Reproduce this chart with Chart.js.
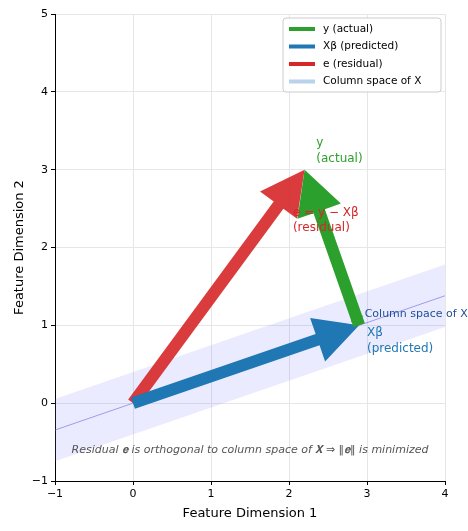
<!DOCTYPE html><html><head><script src="https://cdn.jsdelivr.net/npm/chart.js@4"></script>
<style>body{margin:0;background:#fff}#c{width:468px;height:531px}</style></head><body><div id="c"><canvas id="cv"></canvas></div>
<script>
const xTicks=[-1,0,1,2,3,4];
const yTicks=[-1,0,1,2,3,4,5];
const colSlope=[0.345];
const bandHalf=[0.4];
const predicted=[2.9,1.0];
const actual=[2.2,3.0];
const origin=[0,0];
const lineXs=[-1,4];
const C={g:'#2ca02c',b:'#1f77b4',r:'#d62728',band:'rgba(120,120,255,0.15)'};
const lineData=lineXs.map(x=>({x,y:colSlope[0]*x}));
const topData=lineXs.map(x=>({x,y:colSlope[0]*x+bandHalf[0]}));
const botData=lineXs.map(x=>({x,y:colSlope[0]*x-bandHalf[0]}));
const arrows=[
 {from:origin,to:actual,color:'rgba(214,39,40,0.9)'},
 {from:origin,to:predicted,color:C.b},
 {from:predicted,to:actual,color:C.g}
];
const plug={id:'p',afterDatasetsDraw(ch){
 const c=ch.ctx,xs=ch.scales.x,ys=ch.scales.y;
 const P=p=>[xs.getPixelForValue(p[0]),ys.getPixelForValue(p[1])];
 c.save();
 const [px,py]=P(predicted);
 c.strokeStyle='#888';c.lineWidth=1;c.beginPath();
 c.moveTo(px-8,py-3);c.lineTo(px-5,py-12);c.lineTo(px+4,py-9);c.stroke();
 arrows.forEach(a=>{
  const [x0,y0]=P(a.from),[x1,y1]=P(a.to);
  const dx=x1-x0,dy=y1-y0,L=Math.hypot(dx,dy),ux=dx/L,uy=dy/L,nx=-uy,ny=ux;
  const hl=44,hw=23,sw=6;
  const bx=x1-ux*hl,by=y1-uy*hl;
  c.fillStyle=a.color;c.beginPath();
  c.moveTo(x0+nx*sw,y0+ny*sw);c.lineTo(bx+nx*sw,by+ny*sw);c.lineTo(bx+nx*hw,by+ny*hw);
  c.lineTo(x1,y1);c.lineTo(bx-nx*hw,by-ny*hw);c.lineTo(bx-nx*sw,by-ny*sw);c.lineTo(x0-nx*sw,y0-ny*sw);c.closePath();c.fill();
 });
 c.font='12px "DejaVu Sans"';c.textBaseline='middle';c.textAlign='left';
 const T=(t,x,y,col)=>{c.fillStyle=col;const [a,b]=P([x,y]);c.fillText(t,a,b);};
 T('y',2.35,3.34,C.g);T('(actual)',2.35,3.14,C.g);
 T('e = y − Xβ',2.05,2.45,C.r);T('(residual)',2.05,2.25,C.r);
 c.font='11px "DejaVu Sans"';
 T('Column space of X',2.97,1.15,'#1f4e9a');
 c.font='12px "DejaVu Sans"';
 T('Xβ',3.0,0.9,C.b);T('(predicted)',3.0,0.7,C.b);
 c.font='italic 11px "DejaVu Sans"';c.fillStyle='#555';c.textAlign='center';
 T('Residual 𝐞 is orthogonal to column space of 𝐗 ⇒ ‖𝐞‖ is minimized',1.5,-0.6,'#555');
 // legend
 const lx=283,ly=18;c.textAlign='left';
 c.fillStyle='rgba(255,255,255,0.9)';c.strokeStyle='#ccc';c.lineWidth=1;
 c.beginPath();c.roundRect(lx,ly,158,74,3);c.fill();c.stroke();
 const items=[['y (actual)',C.g],['Xβ (predicted)',C.b],['e (residual)',C.r],['Column space of X','#b9d3ea']];
 c.font='10.5px "DejaVu Sans"';
 items.forEach((it,i)=>{const yy=ly+11+i*17.5;c.strokeStyle=it[1];c.lineWidth=4;c.beginPath();c.moveTo(lx+6,yy);c.lineTo(lx+32,yy);c.stroke();c.fillStyle='#000';c.fillText(it[0],lx+40,yy);});
 c.restore();
}};
new Chart(document.getElementById('cv'),{type:'scatter',data:{datasets:[
 {data:topData,showLine:true,borderWidth:0,pointRadius:0,backgroundColor:C.band,fill:'+1'},
 {data:botData,showLine:true,borderWidth:0,pointRadius:0,fill:false},
 {data:lineData,showLine:true,borderColor:'rgba(100,100,220,0.6)',borderWidth:1,pointRadius:0}
]},options:{responsive:true,maintainAspectRatio:false,animation:false,
 layout:{padding:{left:8,right:23,top:14,bottom:6}},
 plugins:{legend:{display:false},tooltip:{enabled:false}},
 scales:{
  x:{type:'linear',min:-1,max:4,afterBuildTicks:s=>{s.ticks=xTicks.map(v=>({value:v}))},
   afterFit:s=>{s.height=44},
   grid:{color:'#e6e6e6',tickLength:4,tickColor:'#000'},border:{color:'#000'},
   ticks:{color:'#000',font:{size:11,family:'DejaVu Sans'},callback:v=>v<0?'−'+(-v):v},
   title:{display:true,text:'Feature Dimension 1',color:'#000',font:{size:13,family:'DejaVu Sans'}}},
  y:{type:'linear',min:-1,max:5,afterBuildTicks:s=>{s.ticks=yTicks.map(v=>({value:v}))},
   afterFit:s=>{s.width=47},
   grid:{color:'#e6e6e6',tickLength:4,tickColor:'#000'},border:{color:'#000'},
   ticks:{color:'#000',font:{size:11,family:'DejaVu Sans'},callback:v=>v<0?'−'+(-v):v},
   title:{display:true,text:'Feature Dimension 2',color:'#000',font:{size:13,family:'DejaVu Sans'}}}
 }},plugins:[plug]});
</script></body></html>
